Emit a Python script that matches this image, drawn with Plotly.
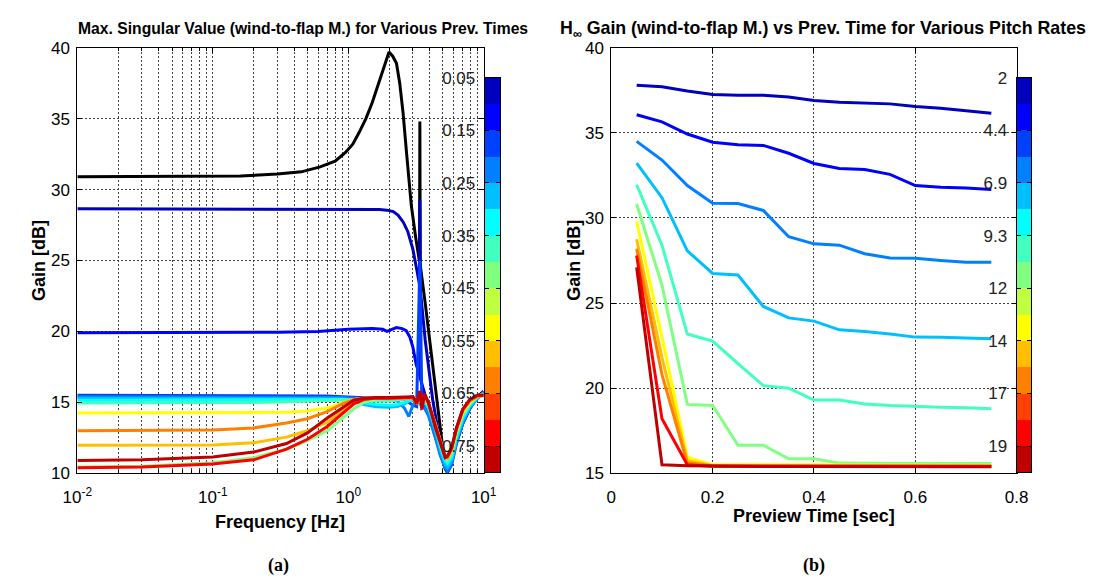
import plotly.graph_objects as go

W, H = 1093, 582

# ---------------- data ----------------
PREVIEW_TIMES = [0.05, 0.10, 0.15, 0.20, 0.25, 0.30, 0.35, 0.40, 0.45, 0.50, 0.55, 0.60, 0.65, 0.70, 0.75]
PREV_TICK_LABELS = ["0.05", "0.15", "0.25", "0.35", "0.45", "0.55", "0.65", "0.75"]
PITCH_RATES = [2.0, 3.21, 4.43, 5.64, 6.86, 8.07, 9.29, 10.5, 11.71, 12.93, 14.14, 15.36, 16.57, 17.79, 19.0]
PITCH_TICK_LABELS = ["2", "4.4", "6.9", "9.3", "12", "14", "17", "19"]

# (a) singular value curves
FREQ_BLACK = [0.01, 0.1, 0.16, 0.3, 0.45, 0.62, 0.8, 0.95, 1.08, 1.2, 1.35, 1.5, 1.68, 1.85, 2.0,
              2.13, 2.27, 2.4, 2.54, 2.7, 2.92, 3.15, 3.36, 3.38, 3.40, 3.7, 4.2, 4.8, 5.1, 5.35,
              5.8, 6.5, 7.5, 8.8, 10]
GAIN_BLACK = [30.9, 30.9, 30.95, 31.1, 31.25, 31.6, 32.0, 32.6, 33.2, 34.0, 35.0, 36.1, 37.5, 38.8, 39.7,
              39.4, 38.9, 37.5, 35.4, 32.5, 28.9, 26.6, 24.9, 34.8, 24.7, 22.0, 17.5, 12.8, 11.0, 10.7,
              11.8, 13.3, 14.7, 15.4, 15.7]

FREQ_P005 = [0.01, 0.5, 1.2, 1.7, 1.93, 2.15, 2.33, 2.55, 2.75, 3.0, 3.2, 3.36, 3.38, 3.40, 3.7,
             4.2, 4.8, 5.2, 5.4, 5.7, 6.3, 7.0, 7.9, 8.8, 10]
GAIN_P005 = [28.65, 28.65, 28.62, 28.6, 28.55, 28.45, 28.2, 27.7, 27.05, 25.8, 24.4, 23.3, 29.3, 23.0, 19.4,
             15.2, 12.0, 10.4, 10.1, 10.6, 12.3, 13.6, 14.6, 15.3, 15.8]

FREQ_P010 = [0.01, 0.1, 0.3, 0.6, 1.0, 1.5, 1.8, 1.93, 2.1, 2.27, 2.5, 2.68, 2.85, 3.0, 3.17,
             3.36, 3.38, 3.40, 3.7, 4.3, 4.9, 5.36, 5.7, 6.3, 7.0, 7.9, 8.8, 10]
GAIN_P010 = [19.9, 19.9, 19.95, 20.0, 20.15, 20.2, 20.15, 20.0, 20.15, 20.27, 20.2, 20.05, 19.6, 18.9, 17.7,
             16.9, 24.5, 16.7, 15.5, 13.6, 11.4, 10.1, 10.6, 12.27, 13.5, 14.55, 15.3, 15.7]

FREQ_LOW = [0.01, 0.03, 0.1, 0.2, 0.35, 0.5, 0.7, 0.9, 1.1, 1.3, 1.6, 2.0, 2.3, 2.6, 2.8,
            3.0, 3.2, 3.38, 3.5, 3.65, 3.9, 4.4, 4.8, 5.2, 5.4, 5.8, 6.3, 7.0, 7.9, 9.0, 10]
GAIN_P015 = [15.5, 15.5, 15.5, 15.5, 15.5, 15.5, 15.45, 15.4, 15.35, 15.3, 15.3, 15.3, 15.3, 15.2, 15.0,
             14.8, 14.7, 25.0, 14.6, 14.7, 14.2, 12.6, 11.3, 10.3, 10.05, 10.6, 12.1, 13.5, 14.6, 15.3, 15.7]
GAIN_P020 = [15.4, 15.4, 15.4, 15.4, 15.4, 15.4, 15.4, 15.35, 15.3, 15.3, 15.25, 15.2, 15.1, 14.6, 14.0,
             14.8, 15.2, 14.9, 14.7, 14.6, 14.1, 12.5, 11.2, 10.4, 10.2, 10.7, 12.2, 13.5, 14.6, 15.3, 15.7]
GAIN_P025 = [15.3, 15.3, 15.3, 15.3, 15.3, 15.3, 15.3, 15.25, 15.1, 14.85, 14.7, 14.65, 14.7, 14.9, 15.1,
             15.2, 15.1, 15.0, 14.9, 15.0, 14.6, 13.0, 11.6, 10.6, 10.4, 10.9, 12.4, 13.7, 14.7, 15.3, 15.6]
GAIN_P030 = [15.15, 15.15, 15.15, 15.15, 15.2, 15.2, 15.2, 15.2, 15.1, 15.0, 14.85, 14.8, 14.85, 15.0, 15.1,
             15.2, 15.1, 15.1, 15.0, 15.1, 14.7, 13.2, 11.8, 10.9, 10.7, 11.1, 12.6, 13.9, 14.8, 15.4, 15.6]
GAIN_P035 = [14.95, 14.95, 14.95, 15.0, 15.05, 15.1, 15.15, 15.2, 15.2, 15.15, 15.1, 15.1, 15.15, 15.2, 15.25,
             15.3, 15.2, 15.3, 15.0, 15.2, 14.8, 13.3, 12.0, 11.1, 10.9, 11.3, 12.8, 14.0, 14.9, 15.4, 15.6]
GAIN_P040 = [10.45, 10.5, 10.75, 11.1, 11.7, 12.3, 13.0, 13.9, 14.55, 15.0, 15.2, 15.3, 15.3, 15.3, 15.3,
             15.3, 15.0, 15.4, 14.8, 15.3, 14.9, 13.4, 12.1, 11.2, 11.0, 11.5, 12.9, 14.2, 15.0, 15.4, 15.6]
GAIN_P050 = [14.25, 14.25, 14.25, 14.25, 14.3, 14.4, 14.6, 14.95, 15.2, 15.3, 15.3, 15.3, 15.3, 15.3, 15.3,
             15.3, 15.0, 15.5, 14.7, 15.4, 15.0, 13.5, 12.2, 11.3, 11.1, 11.6, 13.0, 14.3, 15.0, 15.4, 15.5]
GAIN_P055 = [11.98, 11.98, 12.0, 12.15, 12.55, 13.0, 13.6, 14.4, 15.0, 15.25, 15.3, 15.3, 15.3, 15.3, 15.3,
             15.3, 15.0, 15.6, 14.7, 15.5, 15.0, 13.4, 12.1, 11.2, 11.1, 11.6, 13.1, 14.4, 15.1, 15.4, 15.5]
GAIN_P060 = [13.0, 13.0, 13.05, 13.2, 13.55, 13.85, 14.35, 14.9, 15.2, 15.3, 15.3, 15.3, 15.3, 15.3, 15.3,
             15.3, 15.0, 15.6, 14.6, 15.5, 15.0, 13.4, 12.1, 11.2, 11.1, 11.7, 13.1, 14.4, 15.1, 15.4, 15.5]
GAIN_P070 = [10.4, 10.45, 10.65, 10.95, 11.7, 12.4, 13.3, 14.2, 14.9, 15.2, 15.3, 15.3, 15.35, 15.35, 15.35,
             15.4, 14.9, 15.8, 14.5, 15.6, 15.0, 13.3, 12.2, 11.15, 11.2, 11.8, 13.2, 14.5, 15.2, 15.5, 15.5]
GAIN_P075 = [10.9, 10.95, 11.15, 11.5, 12.1, 12.85, 13.9, 14.6, 15.15, 15.3, 15.35, 15.35, 15.35, 15.35, 15.35,
             15.4, 15.0, 15.8, 14.6, 15.6, 15.0, 13.2, 12.1, 11.1, 11.2, 11.8, 13.2, 14.5, 15.2, 15.5, 15.5]

# (b) H-infinity gain vs preview time
PREVIEW_T = [0.05, 0.10, 0.15, 0.20, 0.25, 0.30, 0.35, 0.40, 0.45, 0.50, 0.55, 0.60, 0.65, 0.70, 0.75]
G_R01 = [37.8, 37.7, 37.45, 37.25, 37.2, 37.2, 37.1, 36.9, 36.8, 36.75, 36.7, 36.55, 36.45, 36.3, 36.15]
G_R02 = [36.06, 35.64, 34.93, 34.45, 34.3, 34.26, 33.8, 33.2, 32.9, 32.84, 32.56, 31.9, 31.8, 31.76, 31.67]
G_R03 = [34.5, 33.4, 31.9, 30.87, 30.85, 30.44, 28.9, 28.48, 28.4, 27.9, 27.65, 27.63, 27.5, 27.4, 27.4]
G_R04 = [33.22, 31.19, 28.07, 26.74, 26.65, 24.8, 24.13, 23.94, 23.43, 23.33, 23.18, 23.0, 22.99, 22.95, 22.9]
G_R05 = [31.95, 28.4, 23.18, 22.77, 21.44, 20.15, 20.0, 19.3, 19.3, 19.07, 18.98, 18.92, 18.88, 18.85, 18.79]
G_R06 = [30.82, 26.05, 19.05, 18.98, 16.65, 16.65, 15.85, 15.85, 15.6, 15.57, 15.57, 15.57, 15.57, 15.57, 15.57]
G_R07 = [29.8, 23.0, 15.95, 15.5, 15.5, 15.5, 15.5, 15.5, 15.5, 15.5, 15.5, 15.5, 15.48, 15.48, 15.48]
G_R08 = [28.75, 21.8, 15.75, 15.45, 15.45, 15.45, 15.45, 15.45, 15.45, 15.45, 15.45, 15.45, 15.45, 15.45, 15.45]
G_R09 = [28.2, 20.8, 15.6, 15.45, 15.45, 15.45, 15.45, 15.45, 15.43, 15.43, 15.43, 15.43, 15.43, 15.43, 15.43]
G_R10 = [27.8, 18.2, 15.5, 15.42, 15.42, 15.42, 15.42, 15.4, 15.4, 15.4, 15.4, 15.4, 15.4, 15.4, 15.4]
G_R11 = [27.1, 15.5, 15.45, 15.42, 15.4, 15.4, 15.4, 15.4, 15.38, 15.38, 15.38, 15.38, 15.38, 15.38, 15.38]


# ---------------- colour map (MATLAB jet, 15 levels) ----------------
def jet(m):
    n = -(-m // 4)
    u = [i / n for i in range(1, n + 1)] + [1.0] * (n - 1) + [i / n for i in range(n, 0, -1)]
    g0 = -(-n // 2) - (1 if m % 4 == 1 else 0)
    J = [[0.0, 0.0, 0.0] for _ in range(m)]
    for k, uv in enumerate(u):
        gi = g0 + k + 1
        ri, bi = gi + n, gi - n
        if 1 <= ri <= m:
            J[ri - 1][0] = uv
        if 1 <= gi <= m:
            J[gi - 1][1] = uv
        if 1 <= bi <= m:
            J[bi - 1][2] = uv
    return ['rgb(%d,%d,%d)' % tuple(round(255 * c) for c in row) for row in J]


JET = jet(15)
COLORSCALE = [[i / 14, c] for i, c in enumerate(JET)]

fig = go.Figure()
LW = 3

# ---- (a)
fig.add_trace(go.Scatter(x=FREQ_BLACK, y=GAIN_BLACK, mode='lines',
                         line=dict(color='black', width=LW), xaxis='x', yaxis='y'))
left_curves = [
    (FREQ_P005, GAIN_P005, 0), (FREQ_P010, GAIN_P010, 1),
    (FREQ_LOW, GAIN_P015, 2), (FREQ_LOW, GAIN_P020, 3), (FREQ_LOW, GAIN_P025, 4),
    (FREQ_LOW, GAIN_P030, 5), (FREQ_LOW, GAIN_P035, 6), (FREQ_LOW, GAIN_P040, 7),
    (FREQ_LOW, GAIN_P050, 9), (FREQ_LOW, GAIN_P055, 10), (FREQ_LOW, GAIN_P060, 11),
    (FREQ_LOW, GAIN_P070, 13), (FREQ_LOW, GAIN_P075, 14),
]
for fx, gy, band in left_curves:
    fig.add_trace(go.Scatter(x=fx, y=gy, mode='lines',
                             line=dict(color=JET[band], width=LW), xaxis='x', yaxis='y'))

# ---- (b)
right_curves = [(G_R01, 0), (G_R02, 1), (G_R03, 3), (G_R04, 4), (G_R05, 6), (G_R06, 7),
                (G_R07, 9), (G_R08, 10), (G_R09, 11), (G_R10, 13), (G_R11, 14)]
for gy, band in right_curves:
    fig.add_trace(go.Scatter(x=PREVIEW_T, y=gy, mode='lines',
                             line=dict(color=JET[band], width=LW), xaxis='x2', yaxis='y2'))

# ---- colour bars as heatmaps
step_t = PREVIEW_TIMES[1] - PREVIEW_TIMES[0]
fig.add_trace(go.Heatmap(z=[[i] for i in range(15)], x=[0],
                         y=[t + step_t / 2 for t in PREVIEW_TIMES],
                         colorscale=COLORSCALE, zmin=0, zmax=14, showscale=False,
                         hoverinfo='skip', xaxis='x3', yaxis='y3'))
step_r = (PITCH_RATES[-1] - PITCH_RATES[0]) / 14
fig.add_trace(go.Heatmap(z=[[i] for i in range(15)], x=[0],
                         y=[r + step_r / 2 for r in PITCH_RATES],
                         colorscale=COLORSCALE, zmin=0, zmax=14, showscale=False,
                         hoverinfo='skip', xaxis='x4', yaxis='y4'))

FONT = 'Liberation Sans, Arial, Helvetica, sans-serif'
tickfont = dict(family=FONT, size=17, color='black')
grid = dict(showgrid=True, gridcolor='#404040', gridwidth=1, griddash='2px,2px')
frame = dict(showline=True, linecolor='black', linewidth=1, mirror='ticks',
             ticks='inside', ticklen=5, tickcolor='black', zeroline=False, tickfont=tickfont)


def px(x):
    return x / W


def py(y):
    return 1 - y / H


MINOR_LOG = [m * 10.0 ** e for e in (-2, -1, 0) for m in range(2, 10)]

layout_axes = dict(
    xaxis=dict(domain=[px(64), px(481)], type='log', range=[-2, 1], anchor='y',
               tickvals=[0.01, 0.1, 1, 10],
               ticktext=['10<sup>-2</sup>', '10<sup>-1</sup>', '10<sup>0</sup>', '10<sup>1</sup>'],
               minor=dict(tickvals=MINOR_LOG, showgrid=True, gridcolor='#404040', gridwidth=1,
                          griddash='2px,2px', ticks='inside', ticklen=3, tickcolor='black'),
               ticklabelstandoff=8, **grid, **frame),
    yaxis=dict(domain=[py(480), py(40)], range=[10, 40], dtick=5, anchor='x',
               ticklabelstandoff=3, **grid, **frame),
    xaxis2=dict(domain=[px(612), px(1028)], range=[0, 0.8], anchor='y2',
                tickvals=[0, 0.2, 0.4, 0.6, 0.8], ticktext=['0', '0.2', '0.4', '0.6', '0.8'],
                ticklabelstandoff=8, **grid, **frame),
    yaxis2=dict(domain=[py(480), py(40)], range=[15, 40], dtick=5, anchor='x2',
                ticklabelstandoff=3, **grid, **frame),
    xaxis3=dict(domain=[px(482), px(498)], range=[-0.5, 0.5], anchor='y3',
                showticklabels=False, showgrid=False, zeroline=False,
                showline=True, linecolor='black', mirror=True, ticks=''),
    yaxis3=dict(domain=[py(479), py(71)], anchor='x3',
                range=[PREVIEW_TIMES[-1] + step_t, PREVIEW_TIMES[0]],
                tickvals=PREVIEW_TIMES[0::2], ticktext=PREV_TICK_LABELS,
                showgrid=False, zeroline=False, showline=True, linecolor='black', mirror='ticks',
                ticks='inside', ticklen=4, tickcolor='black', side='left',
                tickfont=dict(family=FONT, size=17, color='#222'), ticklabelstandoff=5),
    xaxis4=dict(domain=[px(1028), px(1043)], range=[-0.5, 0.5], anchor='y4',
                showticklabels=False, showgrid=False, zeroline=False,
                showline=True, linecolor='black', mirror=True, ticks=''),
    yaxis4=dict(domain=[py(479), py(71)], anchor='x4',
                range=[PITCH_RATES[-1] + step_r, PITCH_RATES[0]],
                tickvals=PITCH_RATES[0::2], ticktext=PITCH_TICK_LABELS,
                showgrid=False, zeroline=False, showline=True, linecolor='black', mirror='ticks',
                ticks='inside', ticklen=4, tickcolor='black', side='left',
                tickfont=dict(family=FONT, size=17, color='#222'), ticklabelstandoff=5),
)

title_l = dict(family=FONT, size=15.7, color='black')
title_r = dict(family=FONT, size=17.8, color='black')
lab = dict(family=FONT, size=18, color='black')
serif = dict(family='Liberation Serif, Times New Roman, serif', size=18, color='black')
annotations = [
    dict(text='<b>Max. Singular Value (wind-to-flap M.) for Various Prev. Times</b>',
         x=px(63), y=py(20), xanchor='left', yanchor='middle', font=title_l),
    dict(text='<b>H<sub>∞</sub> Gain (wind-to-flap M.) vs Prev. Time for Various Pitch Rates</b>',
         x=px(557), y=py(21), xanchor='left', yanchor='middle', font=title_r),
    dict(text='<b>Gain [dB]</b>', x=px(24), y=py(260), textangle=-90,
         xanchor='center', yanchor='middle', font=lab),
    dict(text='<b>Frequency [Hz]</b>', x=px(272), y=py(530), xanchor='center', yanchor='middle', font=lab),
    dict(text='<b>Gain [dB]</b>', x=px(573), y=py(260), textangle=-90,
         xanchor='center', yanchor='middle', font=lab),
    dict(text='<b>Preview Time [sec]</b>', x=px(820), y=py(524), xanchor='center', yanchor='middle', font=lab),
    dict(text='<b>(a)</b>', x=px(270), y=py(575), xanchor='center', yanchor='middle', font=serif),
    dict(text='<b>(b)</b>', x=px(820), y=py(575), xanchor='center', yanchor='middle', font=serif),
]
for a in annotations:
    a.update(xref='paper', yref='paper', showarrow=False)

fig.update_layout(width=W, height=H, autosize=False, margin=dict(l=0, r=0, t=0, b=0),
                  paper_bgcolor='white', plot_bgcolor='white', showlegend=False,
                  annotations=annotations, **layout_axes)

fig.write_html('out.html')
